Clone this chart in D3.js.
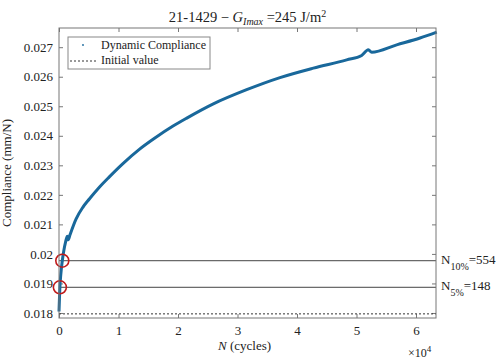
<!DOCTYPE html>
<html lang="en">
<head>
<meta charset="UTF-8">
<title>21-1429 compliance</title>
<style>
body { margin: 0; background: #fff; }
svg text { font-family: "Liberation Serif", "Times New Roman", Times, "DejaVu Serif", serif; fill: #222; }
.axis path { display: none; }
.axis line { stroke: #777; }
</style>
</head>
<body>
<svg id="chart" width="504" height="363"></svg>
<script src="https://d3js.org/d3.v7.min.js"></script>
<script>
// dynamic compliance (cycles, mm/N)
var cycles = [0, 60, 148, 300, 554, 800, 1100, 1400, 1550, 1850, 2860, 3980, 5100, 6780, 8460,
  10700, 13500, 16300, 19100, 21400, 25940, 31540, 37140, 42740, 48350, 50870, 51990, 52550,
  56750, 60670, 63480];
var compliance = [0.01805, 0.0184, 0.01887, 0.0193, 0.01977, 0.0201, 0.0204, 0.0206, 0.02048,
  0.02065, 0.02118, 0.02157, 0.02186, 0.02226, 0.02261, 0.02305, 0.02354, 0.02395, 0.02432,
  0.02459, 0.02508, 0.02556, 0.02597, 0.02629, 0.02657, 0.02672, 0.02691, 0.02683, 0.02708,
  0.02731, 0.02751];

var initialValue = 0.01797;
var thresholdNames = ["10%", "5%"];
var thresholdCycles = [554, 148];
var thresholdValues = [0.01977, 0.01887];

var xTicks = [0, 10000, 20000, 30000, 40000, 50000, 60000];
var yTicks = [0.018, 0.019, 0.02, 0.021, 0.022, 0.023, 0.024, 0.025, 0.026, 0.027];

// plot box edges (window.top is reserved, so use other names)
var boxL = 59, boxR = 436, boxT = 28, boxB = 318;
var serif = '"Liberation Serif", "Times New Roman", Times, "DejaVu Serif", serif';

var x = d3.scaleLinear().domain([0, 63360]).range([boxL, boxR]);
var y = d3.scaleLinear().domain([0.01783, 0.02765]).range([boxB, boxT]);

var svg = d3.select("#chart").attr("font-family", serif);

// axes, ticks pointing inward on all four sides
svg.append("g").attr("class", "axis")
  .attr("transform", "translate(0," + boxB + ")")
  .call(d3.axisBottom(x).tickValues(xTicks).tickSizeInner(-4).tickSizeOuter(0).tickPadding(8)
    .tickFormat(function(d) { return d / 10000; }))
  .attr("font-family", serif)
  .selectAll("text").style("font-size", "13px").attr("fill", "#222");

svg.append("g").attr("class", "axis")
  .attr("transform", "translate(0," + boxT + ")")
  .call(d3.axisTop(x).tickValues(xTicks).tickSizeInner(-4).tickSizeOuter(0).tickFormat(""));

svg.append("g").attr("class", "axis")
  .attr("transform", "translate(" + boxL + ",0)")
  .call(d3.axisLeft(y).tickValues(yTicks).tickSizeInner(-4).tickSizeOuter(0).tickPadding(6)
    .tickFormat(function(d) { return String(d); }))
  .attr("font-family", serif)
  .selectAll("text").style("font-size", "13px").attr("fill", "#222");

svg.append("g").attr("class", "axis")
  .attr("transform", "translate(" + boxR + ",0)")
  .call(d3.axisRight(y).tickValues(yTicks).tickSizeInner(-4).tickSizeOuter(0).tickFormat(""));

// threshold lines
svg.selectAll(".thr").data(thresholdValues).enter().append("line")
  .attr("x1", x(0)).attr("x2", boxR)
  .attr("y1", function(d) { return y(d); }).attr("y2", function(d) { return y(d); })
  .attr("stroke", "#444").attr("stroke-width", 1);

// initial value
svg.append("line")
  .attr("x1", x(0)).attr("x2", boxR)
  .attr("y1", y(initialValue)).attr("y2", y(initialValue))
  .attr("stroke", "#333").attr("stroke-width", 1).attr("stroke-dasharray", "2,2");

// compliance curve
var line = d3.line()
  .x(function(d, i) { return x(cycles[i]); })
  .y(function(d) { return y(d); })
  .curve(d3.curveMonotoneX);

svg.append("path")
  .datum(compliance)
  .attr("d", line)
  .attr("fill", "none")
  .attr("stroke", "#19689b")
  .attr("stroke-width", 3)
  .attr("stroke-linejoin", "round");

// red circles at the threshold crossings
svg.selectAll(".mark").data(thresholdCycles).enter().append("circle")
  .attr("cx", function(d) { return x(d); })
  .attr("cy", function(d, i) { return y(thresholdValues[i]); })
  .attr("r", 6.5)
  .attr("fill", "none")
  .attr("stroke", "#c01a1a")
  .attr("stroke-width", 1.6);

// box
svg.append("rect")
  .attr("x", boxL).attr("y", boxT)
  .attr("width", boxR - boxL).attr("height", boxB - boxT)
  .attr("fill", "none").attr("stroke", "#777").attr("stroke-width", 1);

// labels on the right of the threshold lines
thresholdValues.forEach(function(v, i) {
  var t = svg.append("text")
    .attr("x", boxR + 5)
    .attr("y", y(v) + 3)
    .style("font-size", "13px");
  t.append("tspan").text("N");
  t.append("tspan").attr("dy", 6).style("font-size", "10px").text(thresholdNames[i]);
  t.append("tspan").attr("dy", -6).text("=" + thresholdCycles[i]);
});

// title
var title = svg.append("text")
  .attr("x", 247.5).attr("y", 22)
  .attr("text-anchor", "middle")
  .style("font-size", "14.5px");
title.append("tspan").text("21-1429 \u2212  ");
title.append("tspan").style("font-style", "italic").text("G");
title.append("tspan").attr("dy", 3).style("font-style", "italic").style("font-size", "10px").text("Imax");
title.append("tspan").attr("dy", -3).text(" =245 J/m");
title.append("tspan").attr("dy", -5).style("font-size", "10px").text("2");

// x label
var xl = svg.append("text")
  .attr("x", 218).attr("y", 350)
  .style("font-size", "13px");
xl.append("tspan").style("font-style", "italic").text("N");
xl.append("tspan").text("  (cycles)");

var mult = svg.append("text")
  .attr("x", 408).attr("y", 357)
  .style("font-size", "12px");
mult.append("tspan").text("\u00d710");
mult.append("tspan").attr("dy", -5).style("font-size", "9px").text("4");

// y label
svg.append("text")
  .attr("transform", "translate(11," + (boxT + boxB) / 2 + ") rotate(-90)")
  .attr("text-anchor", "middle")
  .style("font-size", "13px")
  .text("Compliance (mm/N)");

// legend
svg.append("rect")
  .attr("x", 68).attr("y", 37).attr("width", 142).attr("height", 32)
  .attr("fill", "#fff").attr("stroke", "#888").attr("stroke-width", 1);
svg.append("circle").attr("cx", 83).attr("cy", 45).attr("r", 0.9).attr("fill", "#19689b");
svg.append("line")
  .attr("x1", 70).attr("x2", 98).attr("y1", 61).attr("y2", 61)
  .attr("stroke", "#333").attr("stroke-dasharray", "2,2");
svg.append("text").attr("x", 101).attr("y", 49).style("font-size", "12px").text("Dynamic Compliance");
svg.append("text").attr("x", 101).attr("y", 63.5).style("font-size", "12px").text("Initial value");
</script>
</body>
</html>
